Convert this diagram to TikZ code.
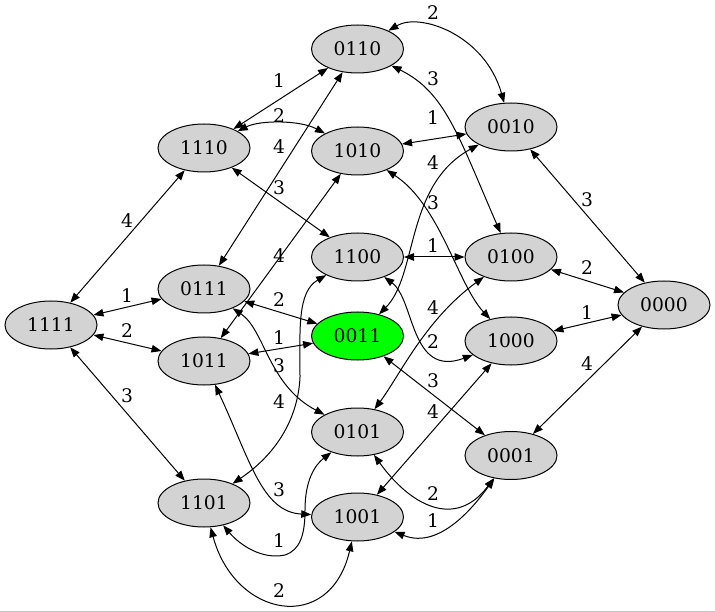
\documentclass[tikz,border=0pt]{standalone}
\usepackage{fontspec}
\setmainfont{DejaVu Serif}
\usetikzlibrary{shapes.geometric,arrows.meta}
\definecolor{nodegray}{HTML}{D3D3D3}
\definecolor{startgreen}{HTML}{00FF00}
\definecolor{rulegray}{HTML}{C8C8C8}
\begin{document}
\begin{tikzpicture}[x=1pt,y=-1pt,
  state/.style={ellipse,draw,line width=1pt,fill=nodegray,minimum width=92pt,
    minimum height=48pt,inner sep=0pt,font=\fontsize{18.7}{20}\selectfont},
  link/.style={line width=1pt,
    {Triangle[length=10pt,width=7.5pt]}-{Triangle[length=10pt,width=7.5pt]}},
  lbl/.style={inner sep=0pt,font=\fontsize{18.7}{20}\selectfont}]
\useasboundingbox (0,0) rectangle (715,612);
\draw[rulegray,line width=1pt] (0,611) -- (715,611);

% states of the 4-bit cube
\node[state] (n0110) at (357.5,49)  {0110};
\node[state] (n0010) at (511,127)   {0010};
\node[state] (n1110) at (204,148)   {1110};
\node[state] (n1010) at (357.5,151) {1010};
\node[state] (n1100) at (357.5,257) {1100};
\node[state] (n0100) at (511,257)   {0100};
\node[state] (n0000) at (664,305)   {0000};
\node[state] (n1111) at (51,325)    {1111};
\node[state] (n0111) at (204,289)   {0111};
\node[state,fill=startgreen] (n0011) at (357.5,336) {0011};
\node[state] (n1011) at (204,361)   {1011};
\node[state] (n1000) at (511,341)   {1000};
\node[state] (n0101) at (357.5,432) {0101};
\node[state] (n0001) at (511,455.5) {0001};
\node[state] (n1101) at (204,503)   {1101};
\node[state] (n1001) at (357.5,517) {1001};

% flips of bit 1
\draw[link] (n0000) -- (n1000) node[lbl] at (587,313) {1};
\draw[link] (n1001) .. controls (440,550) and (475,505) .. (n0001) node[lbl] at (433,521) {1};
\draw[link] (n1010) -- (n0010) node[lbl] at (433,118) {1};
\draw[link] (n1011) -- (n0011) node[lbl] at (279,338) {1};
\draw[link] (n1100) -- (n0100) node[lbl] at (433,246) {1};
\draw[link] (n1101) .. controls (240,545) and (262,560) .. (285,555)
  .. controls (300,550) and (305,535) .. (305,510)
  .. controls (305,480) and (315,465) .. (n0101) node[lbl] at (279,541) {1};
\draw[link] (n1110) -- (n0110) node[lbl] at (279,81) {1};
\draw[link] (n1111) -- (n0111) node[lbl] at (127,296) {1};

% flips of bit 2
\draw[link] (n0100) -- (n0000) node[lbl] at (587,268) {2};
\draw[link] (n0101) .. controls (410,505) and (455,530) .. (n0001) node[lbl] at (433,494) {2};
\draw[link] (n0110) .. controls (420,12) and (485,35) .. (n0010) node[lbl] at (433,13) {2};
\draw[link] (n0111) -- (n0011) node[lbl] at (279,300) {2};
\draw[link] (n1100) .. controls (415,300) and (410,378) .. (n1000) node[lbl] at (433,342) {2};
\draw[link] (n1101) .. controls (235,618) and (330,635) .. (n1001) node[lbl] at (279,591) {2};
\draw[link] (n1110) .. controls (260,120) and (300,120) .. (n1010) node[lbl] at (279,116) {2};
\draw[link] (n1111) -- (n1011) node[lbl] at (127,331) {2};

% flips of bit 3
\draw[link] (n0010) -- (n0000) node[lbl] at (587,200) {3};
\draw[link] (n0011) -- (n0001) node[lbl] at (433,381) {3};
\draw[link] (n0110) .. controls (445,92) and (458,135) .. (n0100) node[lbl] at (433,79) {3};
\draw[link] (n0111) .. controls (265,330) and (268,385) .. (n0101) node[lbl] at (279,366) {3};
\draw[link] (n1010) .. controls (440,205) and (458,285) .. (n1000) node[lbl] at (433,203) {3};
\draw[link] (n1011) .. controls (250,460) and (262,512) .. (n1001) node[lbl] at (279,490) {3};
\draw[link] (n1110) -- (n1100) node[lbl] at (279,188) {3};
\draw[link] (n1111) -- (n1101) node[lbl] at (127,396) {3};

% flips of bit 4
\draw[link] (n0000) -- (n0001) node[lbl] at (587,364) {4};
\draw[link] (n0011) .. controls (418,275) and (405,185) .. (n0010) node[lbl] at (433,163) {4};
\draw[link] (n0101) .. controls (400,375) and (425,320) .. (n0100) node[lbl] at (433,308) {4};
\draw[link] (n0111) -- (n0110) node[lbl] at (279,147) {4};
\draw[link] (n1001) -- (n1000) node[lbl] at (433,412) {4};
\draw[link] (n1011) -- (n1010) node[lbl] at (279,256) {4};
\draw[link] (n1101) .. controls (275,455) and (298,420) .. (300,377)
  .. controls (300,330) and (297,292) .. (n1100) node[lbl] at (279,402) {4};
\draw[link] (n1111) -- (n1110) node[lbl] at (127,221) {4};
\end{tikzpicture}
\end{document}
